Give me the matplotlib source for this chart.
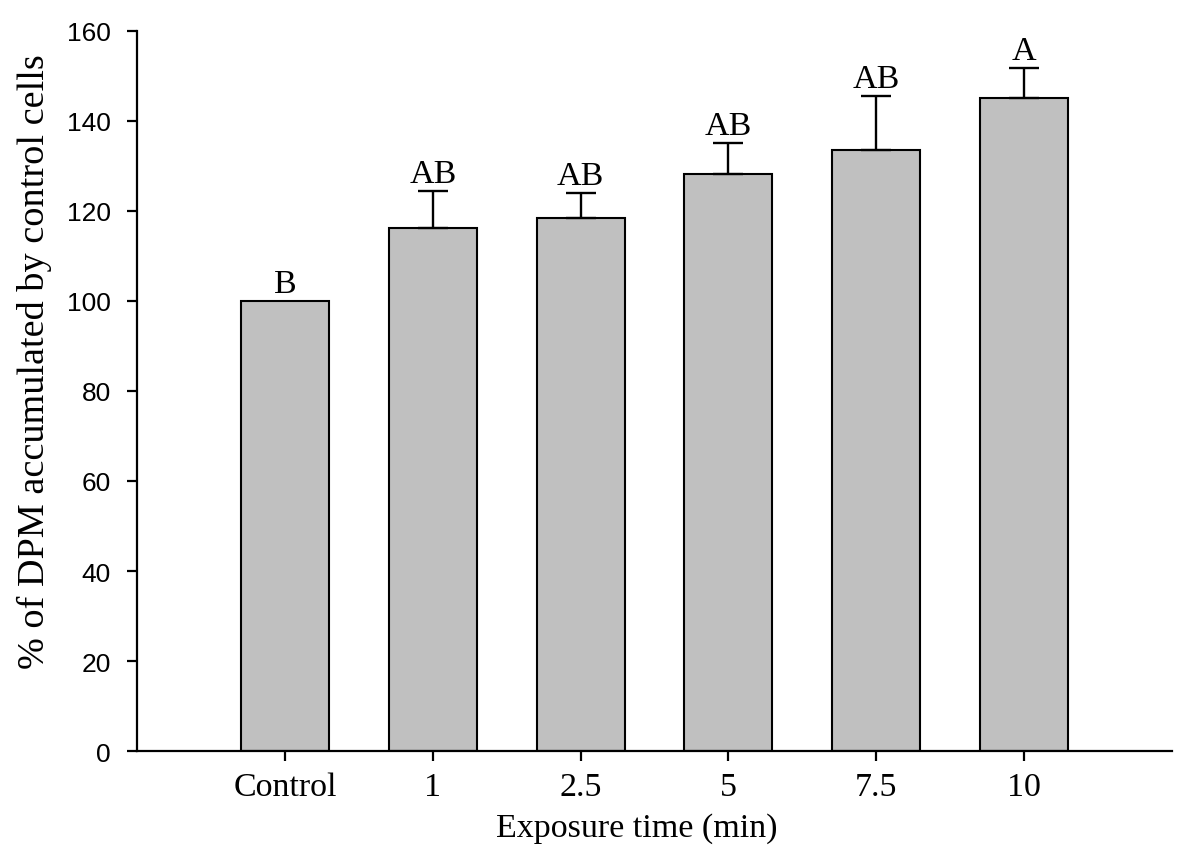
import matplotlib
matplotlib.use("Agg")
import matplotlib.pyplot as plt

categories = ["Control", "1", "2.5", "5", "7.5", "10"]
means = [100.0, 116.2, 118.5, 128.3, 133.6, 145.1]
errors = [0.0, 8.2, 5.6, 6.7, 12.0, 6.6]
letters = ["B", "AB", "AB", "AB", "AB", "A"]
yticks = [0, 20, 40, 60, 80, 100, 120, 140, 160]

serif = "Liberation Serif"
sans = "Liberation Sans"

fig = plt.figure(figsize=(12, 8.62), dpi=100)
ax = fig.add_axes([0.1142, 0.1276, 0.8625, 0.8353])

x = list(range(len(categories)))
ax.bar(x, means, width=0.595, color="#c0c0c0", edgecolor="black", linewidth=1.5, zorder=2)
idx = [i for i, e in enumerate(errors) if e > 0]
ax.errorbar([x[i] for i in idx], [means[i] for i in idx],
            yerr=[[0] * len(idx), [errors[i] for i in idx]], fmt="none", ecolor="black",
            elinewidth=1.7, capsize=11, capthick=1.7, zorder=3)

for xi, m, e, lab in zip(x, means, errors, letters):
    ax.annotate(lab, (xi, m + e), xytext=(0, 6.5), textcoords="offset points",
                ha="center", va="baseline", fontsize=24.5, family=serif)

ax.set_xlim(-1, 6)
ax.set_ylim(0, 160)
ax.set_yticks(yticks)
ax.set_xticks(x)
ax.set_xticklabels(categories, fontsize=24.5, family=serif)
for t in ax.get_yticklabels():
    t.set_fontsize(19)
    t.set_family(sans)

for s in ["top", "right"]:
    ax.spines[s].set_visible(False)
for s in ["left", "bottom"]:
    ax.spines[s].set_linewidth(1.6)
ax.tick_params(axis="both", direction="out", length=7, width=1.6)
ax.tick_params(axis="x", pad=8)
ax.tick_params(axis="y", pad=12)

ax.set_xlabel("Exposure time (min)", fontsize=24.5, family=serif, labelpad=10)
ax.xaxis.set_label_coords(0.483, -0.085)
ax.set_ylabel("% of DPM accumulated by control cells", fontsize=27.5, family=serif)
ax.yaxis.set_label_coords(-0.082, 0.542)

fig.savefig("out.png", dpi=100)
